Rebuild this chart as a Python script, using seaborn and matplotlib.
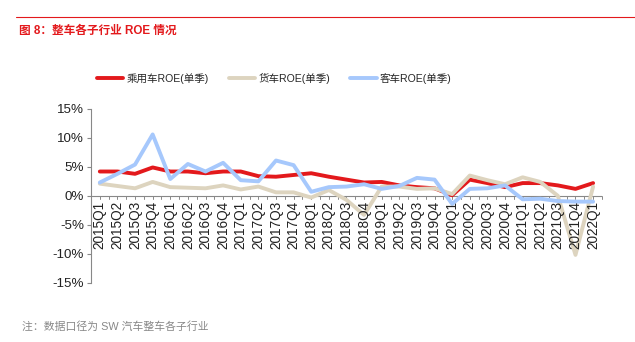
import numpy as np
import pandas as pd
import matplotlib
matplotlib.use("Agg")
import matplotlib.pyplot as plt
import seaborn as sns
from matplotlib.ticker import FuncFormatter

quarters = ["2015Q1", "2015Q2", "2015Q3", "2015Q4", "2016Q1", "2016Q2", "2016Q3", "2016Q4",
            "2017Q1", "2017Q2", "2017Q3", "2017Q4", "2018Q1", "2018Q2", "2018Q3", "2018Q4",
            "2019Q1", "2019Q2", "2019Q3", "2019Q4", "2020Q1", "2020Q2", "2020Q3", "2020Q4",
            "2021Q1", "2021Q2", "2021Q3", "2021Q4", "2022Q1"]

passenger = [4.2, 4.2, 3.8, 4.9, 4.2, 4.2, 3.9, 4.2, 4.2, 3.4, 3.3, 3.6, 3.9, 3.3, 2.8, 2.3,
             2.4, 1.8, 1.5, 1.3, 0.1, 2.8, 2.2, 1.5, 2.2, 2.2, 1.8, 1.2, 2.2]
truck = [2.1, 1.7, 1.3, 2.4, 1.5, 1.4, 1.3, 1.8, 1.1, 1.6, 0.6, 0.6, -0.3, 1.0, -0.7, -3.3,
         1.6, 1.6, 1.2, 1.3, 0.3, 3.5, 2.7, 2.0, 3.2, 2.4, 0.0, -10.2, 1.6]
bus = [2.3, 3.8, 5.4, 10.6, 2.9, 5.5, 4.2, 5.7, 2.7, 2.5, 6.1, 5.3, 0.7, 1.5, 1.6, 2.0,
       1.2, 1.7, 3.1, 2.8, -1.4, 1.2, 1.3, 1.8, -0.6, -0.5, -0.9, -1.0, -1.0]

series_names = ["乘用车ROE(单季)", "货车ROE(单季)", "客车ROE(单季)"]
colors = ["#E3191C", "#DDD4BF", "#A6C8FC"]

sns.set_theme(style="white")
plt.rcParams["font.family"] = ["Liberation Sans", "Noto Sans CJK SC", "DejaVu Sans"]

df = pd.DataFrame({"x": np.arange(len(quarters)),
                   series_names[0]: passenger,
                   series_names[1]: truck,
                   series_names[2]: bus})
long = df.melt(id_vars="x", var_name="series", value_name="roe")

fig = plt.figure(figsize=(6.35, 3.42), dpi=100)
ax = fig.add_axes([0.1433, 0.1734, 0.8046, 0.508])

sns.lineplot(data=long, x="x", y="roe", hue="series", hue_order=series_names,
             palette=colors, linewidth=2.8, ax=ax, legend=True, sort=False)

ax.set_xlim(-0.5, len(quarters) - 0.5)
ax.set_ylim(-15, 15)
ax.set_yticks([-15, -10, -5, 0, 5, 10, 15])
ax.yaxis.set_major_formatter(FuncFormatter(lambda v, p: f"{int(v)}%"))
ax.set_xlabel("")
ax.set_ylabel("")

for s in ["top", "right", "bottom"]:
    ax.spines[s].set_visible(False)
ax.spines["left"].set_color("#888888")
ax.spines["left"].set_linewidth(0.8)
ax.axhline(0, color="#888888", linewidth=0.8, zorder=1)

ax.tick_params(axis="y", which="major", left=True, length=3, width=0.8, color="#888888",
               labelsize=9.6, labelcolor="#222222", pad=2)

ax.set_xticks([])
xs = np.arange(len(quarters))
tick_pos = np.arange(-0.5, len(quarters), 0.5)
for tp in tick_pos:
    ax.plot([tp, tp], [0, -0.6], color="#888888", linewidth=0.7, zorder=1, clip_on=False)
for xi, q in zip(xs, quarters):
    ax.text(xi, -0.9, q, rotation=90, ha="center", va="top", fontsize=9.8, color="#222222")

leg = ax.get_legend()
handles, labels = ax.get_legend_handles_labels()
leg.remove()
fig.legend(handles, labels, loc="center", bbox_to_anchor=(0.432, 0.772), ncol=3, frameon=False,
           fontsize=7.6, handlelength=2.5, columnspacing=1.9, handletextpad=0.3)

fig.add_artist(plt.Line2D([0.025, 1.0], [1 - 17 / 342, 1 - 17 / 342], color="#E3191C", linewidth=0.8))
fig.text(0.03, 1 - 31 / 342, "图 8：整车各子行业 ROE 情况", color="#E3191C", fontsize=8.4,
         fontweight="bold", ha="left", va="center")
fig.text(0.035, 1 - 327 / 342, "注：数据口径为 SW 汽车整车各子行业", color="#888888", fontsize=7.8,
         ha="left", va="center")

fig.savefig("out.png", dpi=100)
